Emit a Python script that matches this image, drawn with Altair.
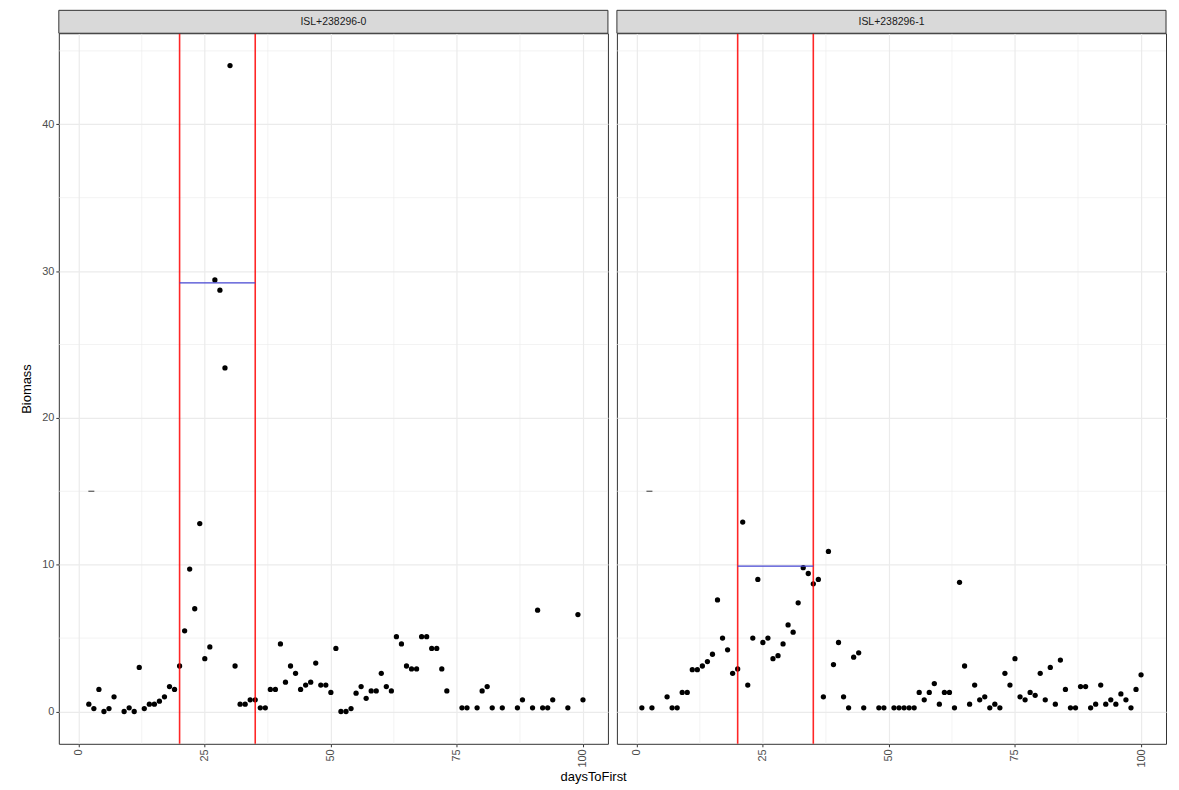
import altair as alt
import pandas as pd

# ---------------- data ----------------
panel_labels = ["ISL+238296-0", "ISL+238296-1"]

days0 = [2, 3, 4, 5, 6, 7, 9, 10, 11, 12, 13, 14, 15, 16, 17, 18, 19, 20, 21, 22,
         23, 24, 25, 26, 27, 28, 29, 30, 31, 32, 33, 34, 35, 36, 37, 38, 39, 40, 41, 42,
         43, 44, 45, 46, 47, 48, 49, 50, 51, 52, 53, 54, 55, 56, 57, 58, 59, 60, 61, 62,
         63, 64, 65, 66, 67, 68, 69, 70, 71, 72, 73, 76, 77, 79, 80, 81, 82, 84, 87, 88,
         90, 91, 92, 93, 94, 97, 99, 100]
bio0 = [0.5, 0.2, 1.5, 0.0, 0.2, 1.0, 0.0, 0.25, 0.0, 3.0, 0.2, 0.5, 0.5, 0.7, 1.0, 1.7, 1.5, 3.1, 5.5, 9.7,
        7.0, 12.8, 3.6, 4.4, 29.4, 28.7, 23.4, 44.0, 3.1, 0.5, 0.5, 0.8, 0.8, 0.25, 0.25, 1.5, 1.5, 4.6, 2.0, 3.1,
        2.6, 1.5, 1.8, 2.0, 3.3, 1.8, 1.8, 1.3, 4.3, 0.0, 0.0, 0.2, 1.25, 1.7, 0.9, 1.4, 1.4, 2.6, 1.7, 1.4,
        5.1, 4.6, 3.1, 2.9, 2.9, 5.1, 5.1, 4.3, 4.3, 2.9, 1.4, 0.25, 0.25, 0.25, 1.4, 1.7, 0.25, 0.25, 0.25, 0.8,
        0.25, 6.9, 0.25, 0.25, 0.8, 0.25, 6.6, 0.8]

days1 = [1, 3, 6, 7, 8, 9, 10, 11, 12, 13, 14, 15, 16, 17, 18, 19, 20, 21, 22, 23,
         24, 25, 26, 27, 28, 29, 30, 31, 32, 33, 34, 35, 36, 37, 38, 39, 40, 41, 42, 43,
         44, 45, 48, 49, 51, 52, 53, 54, 55, 56, 57, 58, 59, 60, 61, 62, 63, 64, 65, 66,
         67, 68, 69, 70, 71, 72, 73, 74, 75, 76, 77, 78, 79, 80, 81, 82, 83, 84, 85, 86,
         87, 88, 89, 90, 91, 92, 93, 94, 95, 96, 97, 98, 99, 100]
bio1 = [0.25, 0.25, 1.0, 0.25, 0.25, 1.3, 1.3, 2.85, 2.85, 3.1, 3.4, 3.9, 7.6, 5.0, 4.2, 2.6, 2.9, 12.9, 1.8, 5.0,
        9.0, 4.7, 5.0, 3.6, 3.8, 4.6, 5.9, 5.4, 7.4, 9.8, 9.4, 8.7, 9.0, 1.0, 10.9, 3.2, 4.7, 1.0, 0.25, 3.7,
        4.0, 0.25, 0.25, 0.25, 0.25, 0.25, 0.25, 0.25, 0.25, 1.3, 0.8, 1.3, 1.9, 0.5, 1.3, 1.3, 0.25, 8.8, 3.1, 0.5,
        1.8, 0.8, 1.0, 0.25, 0.5, 0.25, 2.6, 1.8, 3.6, 1.0, 0.8, 1.3, 1.1, 2.6, 0.8, 3.0, 0.5, 3.5, 1.5, 0.25,
        0.25, 1.7, 1.7, 0.25, 0.5, 1.8, 0.5, 0.8, 0.5, 1.2, 0.8, 0.25, 1.5, 2.5]

window_bounds = [20, 35]
window_level = [29.2, 9.9]
dash_day = [2.5]
dash_bio = [15]

x_ticks = [0, 25, 50, 75, 100]
y_ticks = [0, 10, 20, 30, 40]
x_minor = [12.5, 37.5, 62.5, 87.5]
y_minor = [5, 15, 25, 35, 45]

X_DOM = [-3.95, 104.95]
Y_DOM = [-2.2, 46.2]

W = 551
H = 713
STRIP = 23
FONT = "Liberation Sans"
GRID = "#EBEBEB"


def make_panel(i, days, bio, show_y):
    xs = alt.Scale(domain=X_DOM, nice=False, zero=False)
    ys = alt.Scale(domain=Y_DOM, nice=False, zero=False)
    xaxis = alt.Axis(values=x_ticks, labelAngle=270, title=None, grid=True,
                     gridColor=GRID, gridWidth=1.2)
    if show_y:
        yaxis = alt.Axis(values=y_ticks, title="Biomass", grid=True,
                         gridColor=GRID, gridWidth=1.2, titlePadding=8)
    else:
        yaxis = alt.Axis(values=y_ticks, title=None, labels=False, ticks=False,
                         grid=True, gridColor=GRID, gridWidth=1.2)

    pts = pd.DataFrame({"daysToFirst": days, "Biomass": bio})

    minor_v = alt.Chart(pd.DataFrame({"mx": x_minor})).mark_rule(
        color=GRID, strokeWidth=0.6).encode(x=alt.X("mx:Q", scale=xs, axis=xaxis))
    minor_h = alt.Chart(pd.DataFrame({"my": y_minor})).mark_rule(
        color=GRID, strokeWidth=0.6).encode(y=alt.Y("my:Q", scale=ys, axis=yaxis))

    points = alt.Chart(pts).mark_circle(size=28, color="black", opacity=1).encode(
        x=alt.X("daysToFirst:Q", scale=xs, axis=xaxis),
        y=alt.Y("Biomass:Q", scale=ys, axis=yaxis),
    )

    vlines = alt.Chart(pd.DataFrame({"w": window_bounds})).mark_rule(
        color="#FF0000", strokeWidth=1.6, opacity=0.85).encode(
        x=alt.X("w:Q", scale=xs, axis=xaxis))

    seg = alt.Chart(pd.DataFrame({"start": [window_bounds[0]], "end": [window_bounds[1]],
                                  "level": [window_level[i]]})).mark_rule(
        color="#4646D2", strokeWidth=1.4).encode(
        x=alt.X("start:Q", scale=xs, axis=xaxis), x2="end:Q",
        y=alt.Y("level:Q", scale=ys, axis=yaxis))

    dash = alt.Chart(pd.DataFrame({"dd": dash_day, "db": dash_bio})).mark_tick(
        orient="horizontal", size=6, thickness=1.4, color="#333333").encode(
        x=alt.X("dd:Q", scale=xs, axis=xaxis), y=alt.Y("db:Q", scale=ys, axis=yaxis))

    lab = pd.DataFrame({"label": [panel_labels[i]]})
    strip_bg = alt.Chart(lab).mark_rect(fill="#D9D9D9", stroke="#333333", strokeWidth=1).encode(
        x=alt.value(0), x2=alt.value(W), y=alt.value(-STRIP), y2=alt.value(0))
    strip_txt = alt.Chart(lab).mark_text(font=FONT, fontSize=10.5, color="#1A1A1A",
                                         baseline="middle", align="center").encode(
        x=alt.value(W / 2), y=alt.value(-STRIP / 2 + 0.5), text="label:N")

    return alt.layer(minor_v, minor_h, points, vlines, seg, dash, strip_bg, strip_txt).properties(
        width=W, height=H)


p0 = make_panel(0, days0, bio0, True)
p1 = make_panel(1, days1, bio1, False)

chart = alt.hconcat(p0, p1, spacing=7).properties(
    title=alt.TitleParams("daysToFirst", orient="bottom", anchor="middle", fontSize=13,
                          font=FONT, fontWeight="normal", color="black", offset=3),
    padding={"left": 12, "top": 0, "right": 4, "bottom": 0},
).configure_view(
    stroke="#333333", strokeWidth=1
).configure_axis(
    labelFont=FONT, titleFont=FONT, labelFontSize=11, labelColor="#4D4D4D",
    titleFontSize=13, titleColor="black", titleFontWeight="normal",
    tickColor="#333333", tickSize=3, labelPadding=2, domain=False
)

chart.save("out.html", embed_options={"renderer": "svg", "actions": False})
